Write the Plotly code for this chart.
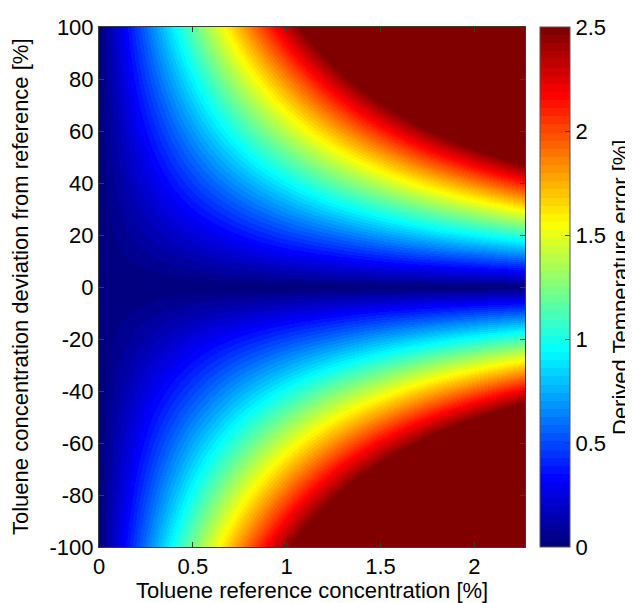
import plotly.graph_objects as go

# ---- data ----
x_conc = [0, 0.25, 0.5, 0.75, 1.0, 1.25, 1.5, 1.75, 2.0, 2.27]          # toluene reference concentration [%]
y_dev = [-100, -80, -60, -40, -20, 0, 20, 40, 60, 80, 100]               # deviation from reference [%]

# derived temperature error [%] (values above 2.5 are saturated in the picture, estimated)
z_m100 = [0, 0.61, 1.23, 1.84, 2.45, 3.06, 3.68, 4.29, 4.90, 5.56]
z_m80 = [0, 0.49, 0.98, 1.47, 1.96, 2.45, 2.94, 3.43, 3.92, 4.45]
z_m60 = [0, 0.37, 0.74, 1.10, 1.47, 1.84, 2.21, 2.57, 2.94, 3.34]
z_m40 = [0, 0.25, 0.49, 0.74, 0.98, 1.23, 1.47, 1.72, 1.96, 2.22]
z_m20 = [0, 0.12, 0.25, 0.37, 0.49, 0.61, 0.74, 0.86, 0.98, 1.11]
z_0 = [0, 0, 0, 0, 0, 0, 0, 0, 0, 0]
z_p20 = [0, 0.12, 0.23, 0.35, 0.47, 0.58, 0.70, 0.82, 0.93, 1.06]
z_p40 = [0, 0.23, 0.47, 0.70, 0.93, 1.17, 1.40, 1.63, 1.86, 2.12]
z_p60 = [0, 0.35, 0.70, 1.05, 1.40, 1.75, 2.10, 2.45, 2.80, 3.17]
z_p80 = [0, 0.47, 0.93, 1.40, 1.86, 2.33, 2.80, 3.26, 3.73, 4.23]
z_p100 = [0, 0.58, 1.17, 1.75, 2.33, 2.91, 3.50, 4.08, 4.66, 5.29]
z_err = [z_m100, z_m80, z_m60, z_m40, z_m20, z_0, z_p20, z_p40, z_p60, z_p80, z_p100]

x_tickvals = [0, 0.5, 1, 1.5, 2]
x_ticktext = ["0", "0.5", "1", "1.5", "2"]
y_tickvals = [-100, -80, -60, -40, -20, 0, 20, 40, 60, 80, 100]
y_ticktext = ["-100", "-80", "-60", "-40", "-20", "0", "20", "40", "60", "80", "100"]
cb_tickvals = [0, 0.5, 1, 1.5, 2, 2.5]
cb_ticktext = ["0", "0.5", "1", "1.5", "2", "2.5"]

x_title = "Toluene reference concentration [%]"
y_title = "Toluene concentration deviation from reference [%]"
cb_title = "Derived Temperature error [%]"

# ---- MATLAB-like jet(64), discrete ----
def _clip(v):
    return max(0.0, min(1.0, v))

def jet(t):
    r = _clip(1.5 - abs(4 * t - 3))
    g = _clip(1.5 - abs(4 * t - 2))
    b = _clip(1.5 - abs(4 * t - 1))
    return "rgb(%d,%d,%d)" % (round(r * 255), round(g * 255), round(b * 255))

n_levels = 64
colorscale = []
for i in range(n_levels):
    c = jet(i / (n_levels - 1))
    colorscale.append([i / n_levels, c])
    colorscale.append([(i + 1) / n_levels, c])

FONT = "Liberation Sans, Arial, sans-serif"
FS = 22
AX = "#3a3a3a"
tfont = dict(family=FONT, size=FS, color="black")

fig = go.Figure(
    go.Heatmap(
        x=x_conc, y=y_dev, z=z_err,
        zmin=0, zmax=2.5, zsmooth="best",
        colorscale=colorscale,
        colorbar=dict(
            x=(532 - 91) / 426, xanchor="left", xpad=0,
            y=0.5, yanchor="middle", ypad=0,
            len=1, lenmode="fraction",
            thickness=30, thicknessmode="pixels",
            outlinewidth=1, outlinecolor="#555555",
            ticks="inside", ticklen=5, tickcolor=AX,
            tickvals=cb_tickvals, ticktext=cb_ticktext,
            tickfont=tfont,
        ),
    )
)

fig.update_layout(
    width=633, height=603,
    margin=dict(l=91, r=116, t=19, b=64, autoexpand=False),
    paper_bgcolor="white", plot_bgcolor="white",
    font=tfont,
    xaxis=dict(
        range=[0, 2.27], tickvals=x_tickvals, ticktext=x_ticktext,
        ticks="inside", ticklen=5, tickcolor=AX, tickfont=tfont,
        showline=True, linecolor=AX, linewidth=1, mirror="allticks",
        showgrid=False, zeroline=False, automargin=False,
        ticklabelstandoff=0,
    ),
    yaxis=dict(
        range=[-100, 100], tickvals=y_tickvals, ticktext=y_ticktext,
        ticks="inside", ticklen=5, tickcolor=AX, tickfont=tfont,
        showline=True, linecolor=AX, linewidth=1, mirror="allticks",
        showgrid=False, zeroline=False, automargin=False,
        ticklabelstandoff=0,
    ),
    annotations=[
        dict(text=x_title, xref="paper", yref="paper", x=0.5, y=0,
             xanchor="center", yanchor="top", yshift=-29, showarrow=False, font=tfont),
        dict(text=y_title, xref="paper", yref="paper", x=0, y=0.5, textangle=-90,
             xanchor="center", yanchor="middle", xshift=-79, showarrow=False, font=tfont),
        dict(text=cb_title, xref="paper", yref="paper", x=1, y=0.5, textangle=-90,
             xanchor="center", yanchor="middle", xshift=95, showarrow=False, font=tfont),
    ],
)

fig.write_html("out.html")
